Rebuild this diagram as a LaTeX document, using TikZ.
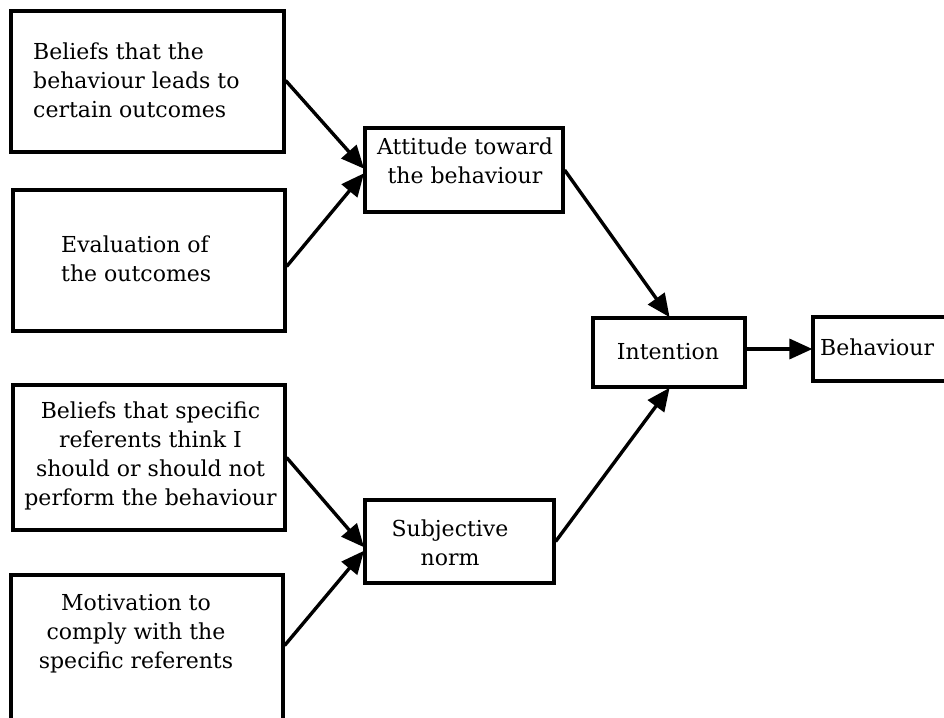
\documentclass[tikz,border=0pt]{standalone}
\usepackage{fontspec}
\setmainfont{DejaVu Serif}
\usetikzlibrary{arrows.meta}
\tikzset{
  box/.style={draw, line width=3.2pt, inner sep=0pt, anchor=center},
  txt/.style={inner sep=0pt, font=\fontsize{22}{29}\selectfont},
  arr/.style={line width=3.4pt, -{Triangle[length=23pt,width=20pt]}, shorten >=-1pt},
}
\begin{document}
\begin{tikzpicture}[x=1pt,y=-1pt]
\useasboundingbox (0,0) rectangle (944,717);
\clip (0,0) rectangle (944,717);
% boxes
\node[box, minimum width=273pt, minimum height=141pt] (b1) at (147.5,81.5) {};
\node[box, minimum width=272pt, minimum height=141pt] (b2) at (149,260.5) {};
\node[box, minimum width=272pt, minimum height=145pt] (b3) at (149,457.5) {};
\node[box, minimum width=272pt, minimum height=145pt] (b4) at (147,647.5) {};
\node[box, minimum width=198pt, minimum height=84pt] (att) at (464,170) {};
\node[box, minimum width=189pt, minimum height=83pt] (sub) at (459.5,541.5) {};
\node[box, minimum width=152pt, minimum height=69pt] (int) at (669,352.5) {};
\node[box, minimum width=137pt, minimum height=64pt] (beh) at (881.5,349) {};
% texts
\node[txt, align=left, anchor=west] (t1) at (33,80) {Beliefs that the\\behaviour leads to\\certain outcomes};
\node[txt, align=left, anchor=west] (t2) at (61,259) {Evaluation of\\the outcomes};
\node[txt, align=center] (t3) at (150.5,456) {Beliefs that specific\\referents think I\\should or should not\\perform the behaviour};
\node[txt, align=center] (t4) at (136,634) {Motivation to\\comply with the\\specific referents};
\node[txt, align=center] (t5) at (465,161) {Attitude toward\\the behaviour};
\node[txt, align=center] (t6) at (450,543) {Subjective\\norm};
\node[txt] (t7) at (668,352) {Intention};
\node[txt, anchor=west] (t8) at (820,347) {Behaviour};
% arrows
\draw[arr] ([yshift=1pt]b1.east) -- ([yshift=2pt]att.west);
\draw[arr] ([yshift=-6pt]b2.east) -- ([yshift=-4pt]att.west);
\draw[arr] (att.east) -- (int.north);
\draw[arr] (sub.east) -- (int.south);
\draw[arr] ([yshift=3.5pt]int.east) -- (beh.west);
\draw[arr] (b3.east) -- ([yshift=-5pt]sub.west);
\draw[arr] ([yshift=2pt]b4.east) -- ([yshift=-10pt]sub.west);
\end{tikzpicture}
\end{document}
